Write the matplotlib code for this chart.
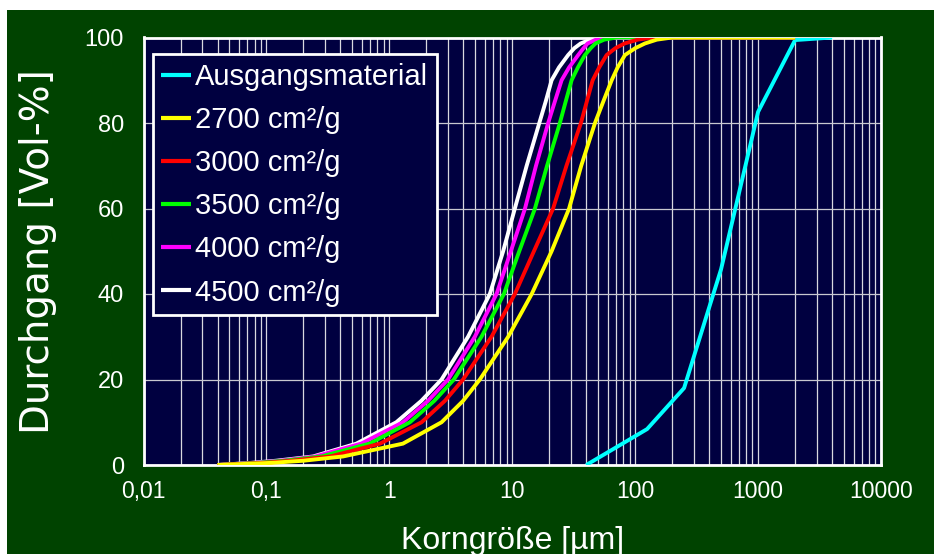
import matplotlib
matplotlib.use("Agg")
import matplotlib.pyplot as plt
from matplotlib.patches import Rectangle
from matplotlib.ticker import FixedLocator, FixedFormatter, LogLocator, NullFormatter

plt.rcParams['font.family'] = ['Liberation Sans', 'DejaVu Sans']

# ---- data ----
aus_x = [40, 125, 250, 500, 1000, 2000, 4000]
aus_y = [0, 8.4, 18.0, 45.8, 82.6, 99.4, 100]

levels = [0, 0.5, 1, 2, 5, 10, 15, 20, 30, 40, 50, 60, 70, 80, 85, 90, 93, 95.9, 97.5, 98.6, 99.5, 100, 100]

x_2700 = [0.04, 0.11, 0.20, 0.42, 1.29, 2.66, 3.98, 5.45, 9.27, 14.4, 20.9, 29.0, 36.4, 47.1, 55.0, 64.4, 72.0, 82.6, 100, 120, 150, 200, 2000]
x_3000 = [0.04, 0.095, 0.16, 0.33, 0.84, 1.83, 2.83, 3.98, 6.78, 10.5, 15.0, 21.5, 27.6, 36.2, 40.4, 45.1, 51.0, 58.6, 69, 82, 105, 140, 2000]
x_3500 = [0.04, 0.085, 0.14, 0.28, 0.69, 1.47, 2.32, 3.35, 5.62, 8.55, 11.4, 15.3, 19.2, 24.4, 27.2, 30.4, 34.2, 39.0, 43.5, 47.5, 56, 70, 2000]
x_4000 = [0.04, 0.08, 0.13, 0.25, 0.59, 1.29, 2.06, 3.00, 4.96, 7.45, 9.74, 12.7, 15.6, 19.6, 22.2, 25.2, 29.0, 34.4, 38.0, 41.0, 48, 60, 2000]
x_4500 = [0.04, 0.075, 0.12, 0.24, 0.54, 1.14, 1.82, 2.66, 4.37, 6.57, 8.43, 10.5, 13.1, 16.6, 18.7, 20.9, 24.0, 28.5, 32.0, 36.0, 43, 55, 2000]

labels = ["Ausgangsmaterial", "2700 cm²/g", "3000 cm²/g", "3500 cm²/g", "4000 cm²/g", "4500 cm²/g"]
colors = ["#00ffff", "#ffff00", "#ff0000", "#00ff00", "#ff00ff", "#ffffff"]

xticks = [0.01, 0.1, 1, 10, 100, 1000, 10000]
xticklabels = ["0,01", "0,1", "1", "10", "100", "1000", "10000"]
yticks = [0, 20, 40, 60, 80, 100]

W, H = 934, 554
fig = plt.figure(figsize=(W / 100, H / 100), dpi=100, facecolor="white")
fig.patches.append(Rectangle((7 / W, 0), 1 - 7 / W, (H - 10) / H, transform=fig.transFigure,
                             facecolor="#004300", edgecolor="none", zorder=-10))

ax = fig.add_axes([143.5 / W, (H - 465) / H, (881 - 143.5) / W, (465 - 37.5) / H])
ax.set_facecolor("#000040")
ax.set_xscale("log")
ax.set_xlim(0.01, 10000)
ax.set_ylim(0, 100)

lw = 2.8
series = [(aus_x, aus_y), (x_2700, levels), (x_3000, levels), (x_3500, levels), (x_4000, levels), (x_4500, levels)]
zorders = [3, 9, 8, 7, 6, 5]
for (xs, ys), lab, col, z in zip(series, labels, colors, zorders):
    ax.plot(xs, ys, color=col, lw=lw, label=lab, zorder=z, solid_capstyle="butt",
            solid_joinstyle="round")

ax.xaxis.set_major_locator(FixedLocator(xticks))
ax.xaxis.set_major_formatter(FixedFormatter(xticklabels))
ax.xaxis.set_minor_locator(LogLocator(base=10, subs=range(2, 10), numticks=100))
ax.xaxis.set_minor_formatter(NullFormatter())
ax.set_yticks(yticks)

ax.grid(True, which="both", axis="x", color="#d8d8e0", lw=0.9, zorder=1)
ax.grid(True, which="major", axis="y", color="#c8c8d0", lw=0.9, zorder=1)
ax.set_axisbelow(True)

ax.tick_params(axis="both", which="both", length=0, colors="white")
ax.tick_params(axis="y", pad=14, labelsize=17)
ax.tick_params(axis="x", pad=11, labelsize=16.5)
for s in ax.spines.values():
    s.set_color("white")
    s.set_linewidth(2)
    s.set_zorder(2.5)

ax.set_xlabel("Korngröße [µm]", color="white", fontsize=23, labelpad=16)
ax.set_ylabel("Durchgang [Vol-%]", color="white", fontsize=28, labelpad=20,
              family=['DejaVu Sans'])

leg = ax.legend(loc="upper left", bbox_to_anchor=(0.0125, 0.9614), frameon=True, fancybox=False,
                facecolor="#000040", edgecolor="white", framealpha=1, fontsize=21,
                handlelength=1.0, handletextpad=0.15, labelspacing=0.52, borderpad=0.3,
                borderaxespad=0)
leg.get_frame().set_linewidth(2)
for t in leg.get_texts():
    t.set_color("white")
for l in leg.get_lines():
    l.set_linewidth(3)
leg.set_zorder(20)

fig.savefig("out.png", dpi=100, facecolor=fig.get_facecolor())
